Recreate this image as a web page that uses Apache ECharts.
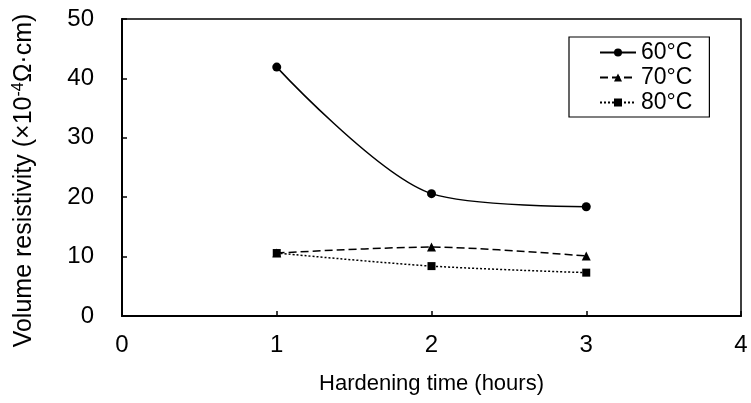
<!DOCTYPE html>
<html>
<head>
<meta charset="utf-8">
<script src="https://cdn.jsdelivr.net/npm/echarts@6/dist/echarts.min.js"></script>
<style>
html,body{margin:0;padding:0;background:#fff;}
#chart{width:751px;height:403px;}
</style>
</head>
<body>
<div id="chart"></div>
<script>
const hours = [1, 2, 3];
const series60 = [41.9, 20.6, 18.4];
const series70 = [10.6, 11.6, 10.1];
const series80 = [10.6, 8.4, 7.3];
const seriesNames = ['60°C', '70°C', '80°C'];
const xTicks = [0, 1, 2, 3, 4];
const yTicks = [0, 10, 20, 30, 40, 50];

const font = 'Liberation Sans, Arial, sans-serif';
const toPairs = (vals) => hours.map((h, i) => [h, vals[i]]);

const chart = echarts.init(document.getElementById('chart'), null, {renderer: 'canvas'});
chart.setOption({
  animation: false,
  backgroundColor: '#fff',
  textStyle: {fontFamily: font, color: '#000'},
  grid: {left: 122, right: 10, top: 19, bottom: 87, show: true, borderColor: '#000', borderWidth: 1.5,
         containLabel: false, outerBoundsMode: 'none'},
  legend: {
    orient: 'vertical',
    left: 569, top: 37,
    data: seriesNames,
    borderColor: '#000', borderWidth: 1.2,
    padding: [4, 17, 3, 30],
    itemWidth: 36, itemHeight: 10, itemGap: 2,
    textStyle: {fontFamily: font, fontSize: 23, color: '#000', lineHeight: 23}
  },
  xAxis: {
    type: 'value',
    min: xTicks[0], max: xTicks[xTicks.length - 1], interval: 1,
    name: 'Hardening time (hours)',
    nameLocation: 'middle', nameGap: 57,
    nameTextStyle: {fontFamily: font, fontSize: 22, color: '#000'},
    axisLine: {lineStyle: {color: '#000', width: 2}},
    axisTick: {inside: true, length: 5, lineStyle: {color: '#000', width: 1.5}},
    axisLabel: {fontFamily: font, fontSize: 24, color: '#000', margin: 17},
    splitLine: {show: false}
  },
  yAxis: {
    type: 'value',
    min: yTicks[0], max: yTicks[yTicks.length - 1], interval: 10,
    name: '{a|Volume resistivity (×10}{s|-4}{a|Ω·cm)}',
    nameLocation: 'middle', nameGap: 84,
    nameTextStyle: {
      fontFamily: font, fontSize: 25, color: '#000',
      padding: [0, 0, 0, -26],
      rich: {
        a: {fontFamily: font, fontSize: 25, color: '#000'},
        s: {fontFamily: font, fontSize: 16, color: '#000', verticalAlign: 'top', padding: [0, 0, 11, 0]}
      }
    },
    axisLine: {lineStyle: {color: '#000', width: 2}},
    axisTick: {inside: true, length: 5, lineStyle: {color: '#000', width: 1.5}},
    axisLabel: {fontFamily: font, fontSize: 24, color: '#000', margin: 28},
    splitLine: {show: false}
  },
  series: [
    {
      name: seriesNames[0], type: 'line', data: toPairs(series60), smooth: 0.3,
      symbol: 'circle', symbolSize: 9,
      itemStyle: {color: '#000'},
      lineStyle: {color: '#000', width: 1.5, type: 'solid'}
    },
    {
      name: seriesNames[1], type: 'line', data: toPairs(series70), smooth: 0.3,
      symbol: 'triangle', symbolSize: 9,
      itemStyle: {color: '#000'},
      lineStyle: {color: '#000', width: 1.5, type: [8, 4]}
    },
    {
      name: seriesNames[2], type: 'line', data: toPairs(series80), smooth: 0.3,
      symbol: 'rect', symbolSize: 8,
      itemStyle: {color: '#000'},
      lineStyle: {color: '#000', width: 1.5, type: [2, 2]}
    }
  ]
});
</script>
</body>
</html>
